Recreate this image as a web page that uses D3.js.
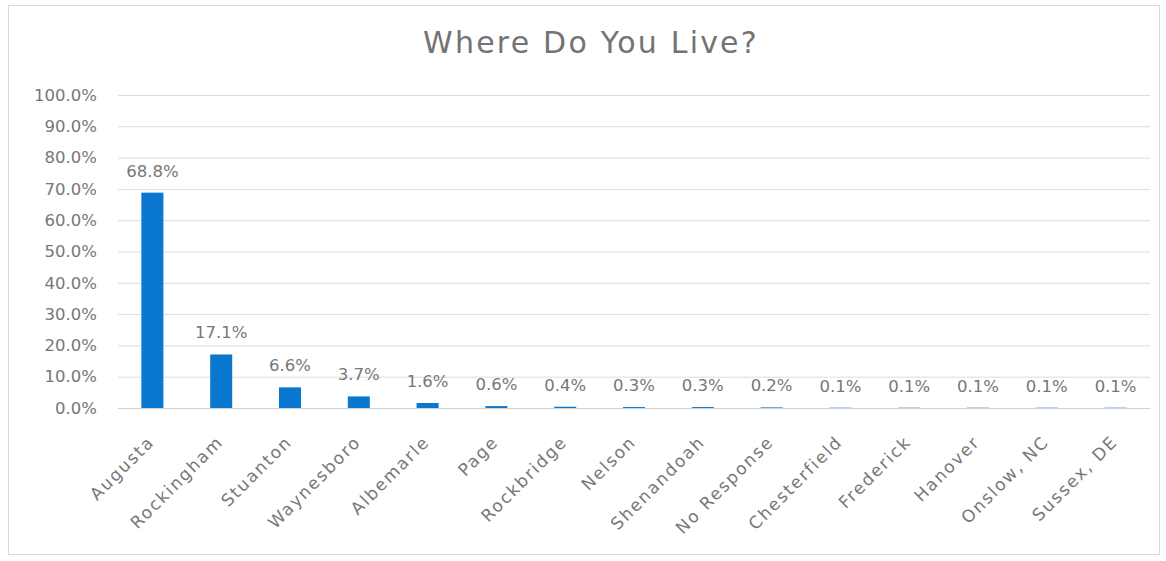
<!DOCTYPE html>
<html><head><meta charset="utf-8">
<script src="https://cdn.jsdelivr.net/npm/d3@7"></script>
<style>
body{margin:0;background:#fff;}
text{font-family:"DejaVu Sans",sans-serif;}
</style></head>
<body><svg id="c" width="1166" height="561"></svg>
<script>
const categories = ["Augusta","Rockingham","Stuanton","Waynesboro","Albemarle","Page","Rockbridge","Nelson","Shenandoah","No Response","Chesterfield","Frederick","Hanover","Onslow, NC","Sussex, DE"];
const values = [68.8,17.1,6.6,3.7,1.6,0.6,0.4,0.3,0.3,0.2,0.1,0.1,0.1,0.1,0.1];
const yTicks = [0,10,20,30,40,50,60,70,80,90,100];
const title = "Where Do You Live?";

const svg = d3.select("#c");
const W=1166,H=561;
const m={l:118,r:16,t:95,b:153};
svg.append("rect").attr("x",8.5).attr("y",5.5).attr("width",1151).attr("height",549)
  .attr("fill","#fff").attr("stroke","#d9d9d9");
const x = d3.scaleBand().domain(categories).range([m.l,W-m.r]).paddingInner(0.68).paddingOuter(0.34);
const y = d3.scaleLinear().domain([0,100]).range([H-m.b,m.t]);

svg.append("text").attr("x",591).attr("y",53).attr("text-anchor","middle")
  .attr("font-size",30).attr("letter-spacing",2.2).attr("fill","#737373").text(title);

const ya = svg.append("g").attr("transform",`translate(${m.l},0)`)
  .call(d3.axisLeft(y).tickValues(yTicks).tickSize(-(W-m.l-m.r)).tickPadding(21).tickFormat(d=>d.toFixed(1)+"%"));
ya.select(".domain").remove();
ya.selectAll("line").attr("stroke","#dcdcdc");
ya.selectAll("text").attr("font-size",16.5).attr("fill","#777");

const xa = svg.append("g").attr("transform",`translate(0,${H-m.b})`)
  .call(d3.axisBottom(x).tickSize(0).tickPadding(0));
xa.select(".domain").attr("stroke","#d0d0d0");
xa.selectAll("text").attr("font-size",17).attr("letter-spacing",1.8).attr("fill","#777")
  .attr("text-anchor","end").attr("dy",0)
  .attr("transform","translate(3,35) rotate(-45)");

svg.append("g").selectAll("rect").data(values).join("rect")
  .attr("x",(d,i)=>x(categories[i])).attr("width",x.bandwidth())
  .attr("y",d=>y(d)).attr("height",d=>y(0)-y(d)).attr("fill","#0a78d0");

svg.append("g").selectAll("text").data(values).join("text")
  .attr("x",(d,i)=>x(categories[i])+x.bandwidth()/2).attr("y",d=>y(d)-16)
  .attr("text-anchor","middle").attr("font-size",16.5).attr("fill","#777")
  .text(d=>d.toFixed(1)+"%");
</script></body></html>
